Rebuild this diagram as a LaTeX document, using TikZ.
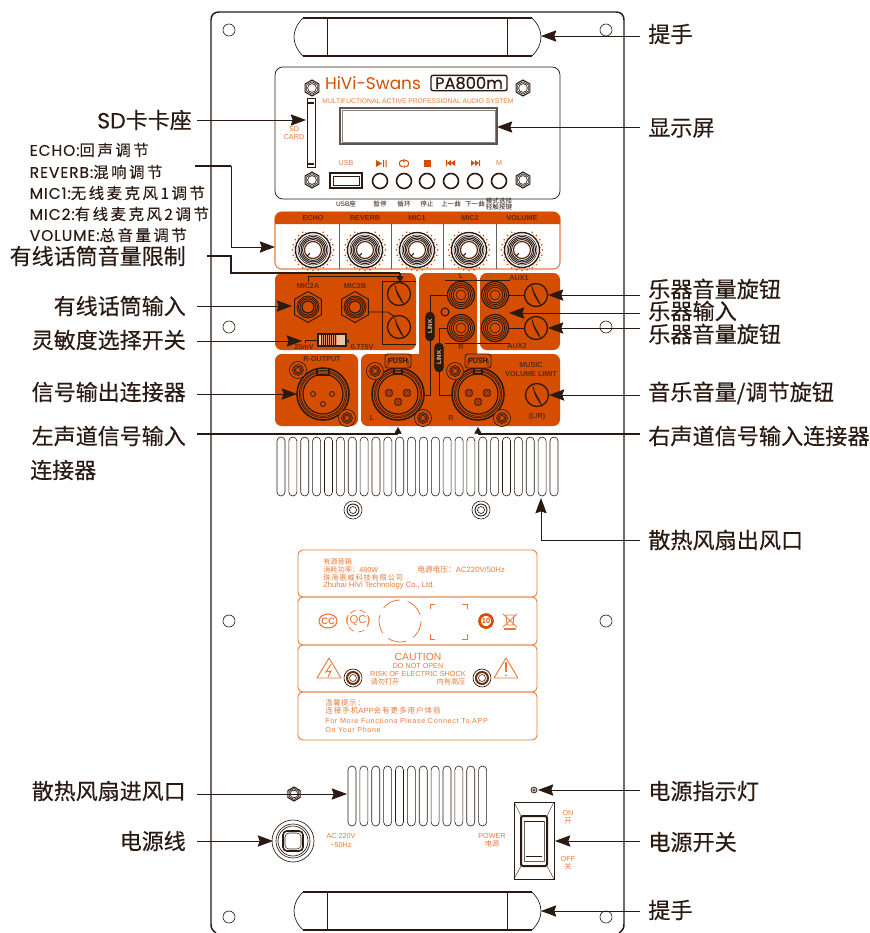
\documentclass[tikz,border=0pt]{standalone}
\usepackage{fontspec}
\setmainfont{Liberation Sans}
\newfontfamily\cjk{Noto Sans CJK SC}
\newfontfamily\cjkb{Noto Sans CJK SC}[FakeBold=0.35]
\newfontfamily\cjkl{Noto Sans CJK SC}[LetterSpace=16,FakeBold=0.15]
\newfontfamily\cjks{Noto Sans CJK SC}[LetterSpace=12]
\newfontfamily\lat{Poppins}
\newfontfamily\latm{Poppins}[FakeBold=0.25]
\newfontfamily\latl{Poppins}[LetterSpace=6,FakeBold=0.2]
\newfontfamily\lsp{Liberation Sans}[LetterSpace=9]
\usetikzlibrary{arrows.meta,shapes.geometric}
\definecolor{po}{HTML}{D54E00}
\definecolor{lo}{HTML}{E87A3A}
\definecolor{dk}{HTML}{2A1A12}
\definecolor{br}{HTML}{5E2A10}
\newcounter{tc}
\newcommand{\stx}[3][]{\stepcounter{tc}\node[smalltext,#1] (t\arabic{tc}) at (#2) {#3};}
\newcommand{\ptx}[3][]{\stepcounter{tc}\node[paneltext,#1] (t\arabic{tc}) at (#2) {#3};}
\newcommand{\hexnut}[3]{\begin{scope}[shift={(#1,#2)},ink]
 \draw[line width=.8pt] (90:#3) -- (30:#3) -- (-30:#3) -- (-90:#3) -- (-150:#3) -- (150:#3) -- cycle;
 \draw[line width=.5pt] (90:#3*.78) -- (30:#3*.78) -- (-30:#3*.78) -- (-90:#3*.78) -- (-150:#3*.78) -- (150:#3*.78) -- cycle;
 \draw[line width=.5pt] (0,0) circle [radius=#3*.55];
\end{scope}}
\newcommand{\knob}[2]{\begin{scope}[shift={(#1,#2)}]
 \foreach \a in {-60,-45,...,240} {\fill[po] (\a:20.5) circle [radius=.9];\fill[po] (\a+7.5:18.9) circle [radius=.5];}
 \fill[white] (0,0) circle [radius=18];
 \draw[dk,line width=1pt] (0,0) circle [radius=17.5];
 \draw[dk,line width=.45pt] (0,0) circle [radius=15];
 \draw[dk,line width=.7pt] (0,0) circle [radius=13.5];
 \draw[dk,line width=.7pt] (0,0) circle [radius=12];
 \draw[dk,line width=.7pt] (0,0) circle [radius=10.5];
 \draw[br,line width=.9pt] (0,0) circle [radius=8.5];
 \draw[dk,line width=.8pt] (-225:8.5) -- (-225:4.5);
\end{scope}}
\newcommand{\trim}[2]{\begin{scope}[shift={(#1,#2)}]
 \draw[dk,line width=1pt,fill=po] (0,0) circle [radius=11.5];
 \draw[dk,line width=.5pt,fill=po!30] (-4,-9) .. controls (-3,-2) and (3,5) .. (4,9) .. controls (1,5) and (-3,0) .. (-4,-9);
 \draw[dk,line width=.5pt] (-1.8,-2) -- (3,8);
\end{scope}}
\newcommand{\rca}[2]{\begin{scope}[shift={(#1,#2)}]
 \draw[dk,line width=.9pt,fill=po] (0,0) circle [radius=13.5];
 \foreach \r in {11.5,9.7,7.8} \draw[dk,line width=.6pt] (0,0) circle [radius=\r];
 \draw[dk,line width=.5pt] (0,0) circle [radius=5];
\end{scope}}
\newcommand{\jack}[2]{\begin{scope}[shift={(#1,#2)}]
 \draw[dk,line width=.7pt,fill=po] (90:15.5) -- (30:15.5) -- (-30:15.5) -- (-90:15.5) -- (-150:15.5) -- (150:15.5) -- cycle;
 \foreach \r in {11,9.5,8} \draw[dk,line width=.6pt] (0,0) circle [radius=\r];
 \draw[dk,line width=.9pt] (0,0) circle [radius=6];
\end{scope}}
\newcommand{\oscrew}[2]{\begin{scope}[shift={(#1,#2)}]
 \draw[dk,line width=.5pt,fill=po] (0,0) circle [radius=8.5];
 \draw[dk,line width=.5pt] (0,0) circle [radius=5.5];
 \draw[dk,line width=.5pt] (0,0) circle [radius=4];
 \draw[dk,line width=.5pt] (0,0) circle [radius=2.5];
\end{scope}}
\newcommand{\wscrew}[2]{\begin{scope}[shift={(#1,#2)}]
 \draw[dk,line width=.45pt] (0,0) circle [radius=9];
 \draw[dk,line width=.7pt] (0,0) circle [radius=6];
 \draw[dk,line width=.5pt] (0,0) circle [radius=3.5];
\end{scope}}
\newcommand{\xlrbody}[2]{\begin{scope}[shift={(#1,#2)}]
 \draw[dk,line width=1.2pt,fill=po] (0,0) circle [radius=26];
 \draw[dk,line width=.5pt] (0,0) circle [radius=23.7];
 \draw[dk,line width=.5pt] (0,0) circle [radius=22.3];
 \draw[dk,line width=.9pt] (0,0) circle [radius=20];
\end{scope}}
\newcommand{\xlrm}[2]{\xlrbody{#1}{#2}\begin{scope}[shift={(#1,#2)}]
 \foreach \p in {(-9,-1),(9,-1),(0,8)} {\draw[dk,line width=.8pt,rounded corners=1.2pt] \p ++(-3.2,-3.2) rectangle ++(6.4,6.4);\draw[dk,line width=.35pt] \p circle [radius=1.6];}
 \draw[dk,line width=.8pt] (-4,-26) -- (-4,-20) -- (4,-20) -- (4,-26);
\end{scope}}
\newcommand{\pushtab}[2]{\begin{scope}[shift={(#1,#2)}]
 \draw[dk,line width=.6pt,rounded corners=2pt,fill=po] (-13,7) -- (-13,-7) -- (13,-7) -- (13,7) -- cycle;
 \draw[dk,line width=.5pt,rounded corners=2pt] (-10,5) -- (-10,-3) -- (10,-3) -- (10,5);
 \node[inner sep=0,text=dk,font=\fontsize{5.2}{6}\selectfont\bfseries] (push#1) at (0,0) {PUSH};
\end{scope}}
\newcommand{\slots}[5]{\foreach \i in {1,...,#1} \draw[slotline,rounded corners=3pt] ({#2+(\i-1)*11.87-4},#3) rectangle ({#2+(\i-1)*11.87+4},#4);}
\newcommand{\handle}[2]{\begin{scope}[shift={(0,#1)}]
 \draw[dk,line width=.5pt] (303,0) .. controls (291,12) and (291,26) .. (303,38);
 \draw[dk,line width=.5pt] (532,0) .. controls (544,12) and (544,26) .. (532,38);
 \draw[dk,line width=1pt] (303,0) -- (532,0);
 \draw[dk,line width=1.2pt] (303,38) -- (532,38);
 \draw[dk,line width=.5pt] (327,0) -- (327,38);
 \draw[dk,line width=.6pt] (507.5,0) -- (507.5,38);
\end{scope}}
\newcommand{\warntri}[2]{\draw[lo,line width=.7pt,line join=round] (#1,#2-12) -- (#1+12,#2+8) -- (#1-12,#2+8) -- cycle;}
\tikzset{
 ink/.style={dk},
 smalltext/.style={inner sep=0,text=lo,font=\fontsize{5.4}{6.2}\selectfont,align=center},
 paneltext/.style={inner sep=0,text=br,font=\fontsize{5.4}{6.2}\selectfont\bfseries,align=center},
 calloutL/.style={anchor=east,inner sep=0,text=dk,font=\fontsize{16.5}{18}\cjkb},
 calloutR/.style={anchor=west,inner sep=0,inner xsep=6pt,text=dk,font=\fontsize{16.6}{18}\cjkb},
 listtext/.style={anchor=west,inner sep=0,text=dk,font=\fontsize{11.6}{12}\cjkl},
 arr/.style={-{Stealth[length=11.5pt,width=8.5pt,inset=1.5pt]},dk,line width=.7pt},
 link/.style={dk,line width=.7pt},
 thickline/.style={dk,line width=2pt},
 tiparr/.style={-{Stealth[length=5pt,width=5.5pt,inset=0pt]},dk,line width=.6pt},
 slotline/.style={dk,line width=.45pt},
 labelbox/.style={lo,line width=.7pt,rounded corners=3.5pt},
 panelfill/.style={fill=po,rounded corners=5pt},
 linkpill/.style={draw=dk,fill=dk,rounded corners=3pt,minimum width=6.5pt,minimum height=21.5pt,inner sep=0,text=po!40,font=\fontsize{4.6}{5}\selectfont\bfseries},
}
\begin{document}
\begin{tikzpicture}[x=.75pt,y=-.75pt]
\useasboundingbox (0,0) rectangle (870,933);
% cabinet
\draw[dk,line width=1.1pt] (216,933) .. controls (212,930) and (211,928) .. (211,924) -- (211,20) .. controls (211,15) and (214,12) .. (219,12) -- (616,12) .. controls (621,12) and (624,15) .. (624,20) -- (624,924) .. controls (624,928) and (623,930) .. (619,933);
\foreach \x in {229,606} \foreach \y in {30,327,621,917} \draw[dk,line width=.5pt] (\x,\y) circle [radius=6];
\handle{18}{}
\handle{892}{}
% display module
\draw[dk,line width=.55pt,rounded corners=6pt] (275,67) rectangle (560,199);
\hexnut{312}{88}{8}\hexnut{523}{88}{8}\hexnut{312}{180}{8}\hexnut{523}{180}{8}
\node[inner sep=0,text=po,font=\fontsize{12.7}{14}\lat\selectfont] (brand) at (373,83) {HiVi-Swans};
\node[draw=dk,line width=1pt,rounded corners=1.5pt,minimum width=57pt,minimum height=11.5pt,inner sep=0,text=dk,font=\fontsize{12.2}{13}\latm\selectfont] (model) at (469,83) {PA800m};
\stx[text=lo]{418,101}{\fontsize{5.05}{6}\selectfont MULTIFUCTIONAL ACTIVE PROFESSIONAL AUDIO SYSTEM}
\draw[dk,line width=.7pt,fill=white] (307,98) rectangle (315,167);
\draw[dk,line width=.8pt] (308,103) -- (314,103) (308,164) -- (314,164);
\stx{294,133}{SD\\CARD}
\coordinate (sdslot) at (306,120);
\draw[dk!75,line width=.9pt] (340,108) rectangle (497,144);
\draw[dk!55,line width=.4pt] (342,110) rectangle (495,142);
\coordinate (screen) at (497,127);
\draw[dk,line width=1.2pt] (330,173) rectangle (362,188);
\draw[dk,line width=.4pt] (333,176) -- (359,176) -- (359,185) -- (333,185) -- cycle;
\foreach \x in {380,404,427,451,475,499} \draw[dk,line width=1.2pt] (\x,181) circle [radius=7.5];
\stx{346,163}{USB}
\fill[po] (376,160) -- (382,163.5) -- (376,167) -- cycle;
\fill[po] (383,160) rectangle (384.2,167) (385.5,160) rectangle (386.7,167);
\draw[po,line width=.8pt,rounded corners=1.8pt] (403,160.5) -- (399.5,160.5) -- (399.5,166.5) -- (402.5,166.5);
\draw[po,line width=.8pt,rounded corners=1.8pt] (405,160.5) -- (408.5,160.5) -- (408.5,166.5) -- (405.5,166.5);
\fill[po] (404.5,158.5) -- (404.5,162.5) -- (402.5,160.5) -- cycle (403.5,164.5) -- (403.5,168.5) -- (405.5,166.5) -- cycle;
\fill[po] (423.5,159.5) rectangle (430.5,166.5);
\fill[po] (446,160) rectangle (447,166) (447,163) -- (451,160) -- (451,166) -- cycle (451,163) -- (455,160) -- (455,166) -- cycle;
\fill[po] (471,160) -- (475,163) -- (471,166) -- cycle (475,160) -- (479,163) -- (475,166) -- cycle (479,160) rectangle (480,166);
\stx{499,163}{M}
\newcommand{\bl}[2]{\stepcounter{tc}\node[inner sep=0,text=dk,align=center,font=\fontsize{4.9}{5}\selectfont] (t\arabic{tc}) at (#1,204) {#2};}
\bl{346}{USB{\cjk 座}}\bl{380}{\cjk 暂停}\bl{404}{\cjk 循环}\bl{427}{\cjk 停止}\bl{451}{\cjk 上一曲}\bl{475}{\cjk 下一曲}
\stepcounter{tc}\node[inner sep=0,text=dk,align=center,font=\fontsize{4.9}{5}\cjk] (t\arabic{tc}) at (499,204) {模式选择\\轻触按键};
% knob strip
\draw[lo,line width=.8pt,rounded corners=5pt] (275,212) rectangle (560,269);
\fill[po,rounded corners=5pt] (275,224) -- (275,212) -- (560,212) -- (560,224);
\fill[po] (275,219) rectangle (560,224);
\foreach \x in {339,391,443,496} \draw[dk!70,line width=.6pt] (\x,224) -- (\x,269);
\ptx{313,218}{ECHO}\ptx{365,218}{REVERB}\ptx{417,218}{MIC1}\ptx{470,218}{MIC2}\ptx{522,218}{VOLUME}
\knob{313}{250}\knob{365}{250}\knob{417}{250}\knob{469}{250}\knob{522}{250}
\coordinate (strip) at (275,247);
% orange panels
\fill[panelfill] (275,273) rectangle (416,350);
\fill[panelfill] (419,273) rectangle (477,365);
\fill[panelfill] (480,273) rectangle (560,350);
\fill[panelfill] (275,354) rectangle (358,426);
\fill[panelfill] (361,354) rectangle (560,426);
% mic section
\draw[dk,line width=.35pt] (416,281) -- (382,281) -- (382,344) -- (416,344);
\ptx{308,286.5}{MIC2A}\ptx{355,286.5}{MIC2B}
\draw[link] (308,282) -- (308,276) -- (400,276) -- (400,283);
\draw[link] (368,312) -- (388,312) -- (399,320);
\jack{308}{307}\jack{355}{307}
\trim{399}{294}\trim{399}{327}
\draw[link] (305,342.5) -- (305,340) -- (318,340) (346,340) -- (348,340) -- (348,342.5);
\draw[dk,line width=.8pt,fill=po!35] (318,334) rectangle (346,346);
\fill[dk] (321,335) rectangle (336,345);
\foreach \x in {322,324,...,336} \draw[po!60,line width=.2pt] (\x,335) -- (\x,345);
\ptx{304,347.5}{20mV}\ptx{362,347.5}{0.775V}
\coordinate (mic2a) at (292,306);
\coordinate (sens) at (302,341);
\coordinate (miclimit) at (400,283);
% RCA / aux
\draw[dk,line width=.35pt] (445,280) -- (510,280) (445,343) -- (510,343);
\ptx{461,276.5}{L}\ptx{461,347.5}{R}\ptx{519,278}{AUX1}\ptx{517,346}{AUX2}
\draw[link] (449,295) -- (430,295) -- (430,395) -- (425,395);
\draw[link] (449,328) -- (439,328) -- (439,395) -- (453,395);
\rca{461}{295}\rca{461}{328}\rca{495}{295}\rca{495}{328}
\draw[link] (508,295) -- (526,295) (508,328) -- (526,328);
\trim{536}{295}\trim{536}{328}
\draw[dk,line width=.8pt] (445,312) circle [radius=4];
\coordinate (aux1) at (548,295);
\coordinate (aux2) at (548,328);
\coordinate (auxin) at (509,313);
% lower section
\ptx{322,359}{R-OUTPUT}
\xlrbody{323}{394}
\begin{scope}[shift={(323,394)}]
 \foreach \p in {(-10,0),(9,0),(0,10)} \draw[dk,line width=.6pt] \p circle [radius=2.5];
 \draw[dk,line width=.8pt] (-6,-26) -- (-6,-19) -- (6,-19) -- (6,-26);
\end{scope}
\oscrew{298}{370}\oscrew{347}{418}
\xlrm{398}{394}\xlrm{478}{394}
\pushtab{398}{361}\pushtab{478}{361}
\oscrew{375}{371}\oscrew{423}{418}\oscrew{455}{371}\oscrew{502}{418}
\node[linkpill] (link1) at (430,326.5) {\rotatebox{90}{LINK}};
\node[linkpill] (link2) at (439,357.5) {\rotatebox{90}{LINK}};
\ptx{372,418}{L}\ptx{451,418}{R}
\ptx{531,369.5}{MUSIC\\VOLUME LIMIT}\ptx{537,417}{(L/R)}
\trim{537}{395}
\coordinate (music) at (549,395);
\coordinate (routput) at (297,394);
\coordinate (xlrl) at (398,427);
\coordinate (xlrr) at (478,427);
% top vent
\slots{24}{281}{437}{496}{}
\wscrew{353}{510}\wscrew{481}{510}
\coordinate (outlet) at (541,498);
% label boxes
\draw[labelbox] (298,550) rectangle (537,597);
\draw[labelbox] (298,597) rectangle (537,645);
\draw[labelbox] (298,645) rectangle (537,692);
\draw[labelbox] (298,692) rectangle (537,740);
\stx[anchor=west]{323,562}{\cjk 有源音箱}
\stx[anchor=west]{323,569.5}{{\cjk 消耗功率：}480W}
\stx[anchor=west]{417,569.5}{\fontsize{5.8}{6.2}\selectfont{\cjk 电源电压：}AC220V/50Hz}
\stx[anchor=west]{323,577.5}{\cjks 珠海惠威科技有限公司}
\stx[anchor=west]{323,586}{\fontsize{5.75}{6.2}\selectfont Zhuhai HiVi Technology Co., Ltd.}
% cert symbols
\draw[lo,line width=.9pt] (328,621) ellipse [x radius=9,y radius=7];
\stx[text=lo]{328,621}{\fontsize{7}{7}\selectfont\bfseries CC}
\stx{358,621}{\fontsize{8.5}{9}\selectfont (QC)}
\draw[lo,line width=.5pt,dash pattern=on 5pt off 3pt] (358,621) circle [radius=11];
\draw[lo,line width=.6pt,dash pattern=on 14pt off 6pt] (400,621) circle [radius=21];
\draw[lo,line width=.6pt] (430,609) -- (430,604) -- (435,604) (462,604) -- (467,604) -- (467,609) (467,634) -- (467,639) -- (462,639) (435,639) -- (430,639) -- (430,634);
\draw[po,line width=2pt] (486,621) circle [radius=6.5];
\stx[text=po]{486,621}{\fontsize{5.5}{6}\selectfont\bfseries 10}
\draw[lo,line width=.6pt] (506,615) -- (514,615) -- (513,625) -- (507,625) -- cycle (503,614) -- (517,627) (517,614) -- (503,627);
\draw[lo,line width=1.2pt] (504,629) -- (516,629);
% caution
\stx{418,657}{\fontsize{7.8}{8}\selectfont CAUTION}
\stx{418,666}{DO NOT OPEN}
\stx{418,674}{\fontsize{5.5}{6}\selectfont RISK OF ELECTRIC SHOCK}
\stx{385,681.5}{\cjk 请勿打开}\stx{451,681.5}{\cjk 内有高压}
\warntri{329}{670}
\draw[lo,line width=.7pt,line join=miter] (331,664) -- (326,672) -- (331,671) -- (328,677);
\warntri{506}{670}
\draw[lo,line width=.8pt] (506,662) -- (506,672) (506,674.5) -- (506,676);
\begin{scope}[shift={(353,678)}]
 \draw[dk,line width=.5pt] (0,0) circle [radius=9];\draw[dk!60!po,line width=1.5pt] (0,0) circle [radius=6];\draw[dk,line width=.4pt] (0,0) circle [radius=3.5];
\end{scope}
\begin{scope}[shift={(482,678)}]
 \draw[dk,line width=.5pt] (0,0) circle [radius=9];\draw[dk!60!po,line width=1.5pt] (0,0) circle [radius=6];\draw[dk,line width=.4pt] (0,0) circle [radius=3.5];
\end{scope}
% tip text
\stx[anchor=west]{325,703}{\cjks 温馨提示：}
\stx[anchor=west]{325,711}{\fontsize{5.7}{6.2}\selectfont{\cjks 连接手机}APP{\cjks 会有更多用户体验}}
\stx[anchor=west]{325,721}{\lsp For More Functions Please Connect To APP}
\stx[anchor=west]{325,730}{\lsp On Your Phone}
% lower vent
\slots{12}{352}{766}{826}{}
\hexnut{294}{794}{7}
\coordinate (inlet) at (347,794);
% power inlet
\draw[dk,line width=.5pt] (293,841) circle [radius=21];
\draw[dk,line width=.5pt] (293,841) circle [radius=17];
\draw[dk,line width=.5pt] (293,841) circle [radius=15];
\draw[dk,line width=1.2pt,rounded corners=3pt] (283,831) rectangle (303,851);
\draw[dk,line width=.4pt,rounded corners=3pt] (285,833) rectangle (301,849);
\coordinate (cord) at (273,841);
\stx{341,840.5}{AC 220V\\\textasciitilde 50Hz}
\stx{492,840.5}{POWER\\{\cjk 电源}}
% power switch
\draw[dk,line width=.7pt] (514,802) rectangle (554,879);
\draw[dk,line width=.3pt] (514,802) -- (521,816) (554,802) -- (547,816) (514,879) -- (521,866) (554,879) -- (547,866);
\draw[dk,line width=1.5pt,rounded corners=1.5pt] (521,816) rectangle (547,866);
\draw[dk!70,line width=.4pt] (524,821) rectangle (544,861);
\draw[dk,line width=.4pt] (524,821) -- (544,821) (526,856) -- (542,856);
\coordinate (switch) at (555,841);
\stx{568,817.5}{ON\\{\cjk 开}}
\stx{568,863.5}{OFF\\{\cjk 关}}
\draw[dk,line width=.5pt,fill=dk!30] (534,790) circle [radius=3];
\fill[dk] (534,790) circle [radius=1];
\coordinate (led) at (538,790);
\coordinate (htop) at (541,36);
\coordinate (hbot) at (541,911);
% list
\node[listtext] (li1) at (29.5,150) {{\latl ECHO:}回声调节};
\node[listtext] (li2) at (29.5,172) {{\latl REVERB:}混响调节};
\node[listtext] (li3) at (29.5,193) {{\latl MIC1:}无线麦克风1调节};
\node[listtext] (li4) at (29.5,214) {{\latl MIC2:}有线麦克风2调节};
\node[listtext] (li5) at (29.5,235) {{\latl VOLUME:}总音量调节};
% left callouts
\node[calloutL] (lsd) at (192,120) {{\latm SD}卡卡座};
\node[calloutL] (llimit) at (186,256) {有线话筒音量限制};
\node[calloutL] (lmic) at (186,306) {有线话筒输入};
\node[calloutL] (lsens) at (186,340) {灵敏度选择开关};
\node[calloutL] (lout) at (186,392) {信号输出连接器};
\node[calloutL] (lleft) at (186,436) {左声道信号输入};
\node[calloutL,anchor=west] (lleft2) at (30,470) {连接器};
\node[calloutL] (linlet) at (186,791) {散热风扇进风口};
\node[calloutL] (lcord) at (186,841) {电源线};
\draw[arr] (197,120) -- (sdslot);
\coordinate (listend) at (195,166);
\draw[arr] (listend) -- (231,166) -- (231,247) -- (strip);
\draw[thickline] (listend) -- (231,166);
\coordinate (limitstart) at (207,256);
\draw[link,line width=1.2pt] (limitstart) -- (231,256) -- (231,273) -- (400,273);
\draw[-{Stealth[length=5pt,width=5pt,inset=0pt]},dk,line width=1pt] (400,273) -- (miclimit);
\draw[arr] (197,306) -- (mic2a);
\draw[arr] (197,341) -- (sens);
\draw[arr] (197,394) -- (routput);
\draw[thickline] (197,434) -- (398,434);
\draw[tiparr] (398,434) -- (xlrl);
\draw[arr] (197,794) -- (inlet);
\draw[arr] (197,841) -- (cord);
% right callouts
\node[calloutR] (rtop) at (640,34) {提手};
\node[calloutR] (rscreen) at (640,128) {显示屏};
\node[calloutR] (raux1) at (640,289) {乐器音量旋钮};
\node[calloutR] (rauxin) at (640,311) {乐器输入};
\node[calloutR] (raux2) at (640,334) {乐器音量旋钮};
\node[calloutR] (rmusic) at (640,393) {音乐音量/调节旋钮};
\node[calloutR] (rright) at (640,436) {右声道信号输入连接器};
\node[calloutR] (rout) at (640,540) {散热风扇出风口};
\node[calloutR] (rled) at (640,791) {电源指示灯};
\node[calloutR] (rsw) at (640,842) {电源开关};
\node[calloutR] (rbot) at (640,910) {提手};
\draw[arr] (rtop.west |- htop) -- (htop);
\draw[arr] (rscreen.west |- screen) -- (screen);
\draw[arr] (raux1.west |- aux1) -- (aux1);
\draw[arr] (rauxin.west |- auxin) -- (auxin);
\draw[arr] (raux2.west |- aux2) -- (aux2);
\draw[arr] (rmusic.west |- music) -- (music);
\draw[thickline] (rright.west |- 0,434) -- (478,434);
\draw[tiparr] (478,434) -- (xlrr);
\draw[arr] (rout.west) -- (541,540) -- (outlet);
\draw[arr] (rled.west |- led) -- (led);
\draw[arr] (rsw.west |- switch) -- (switch);
\draw[arr] (rbot.west |- hbot) -- (hbot);
\end{tikzpicture}
\end{document}
